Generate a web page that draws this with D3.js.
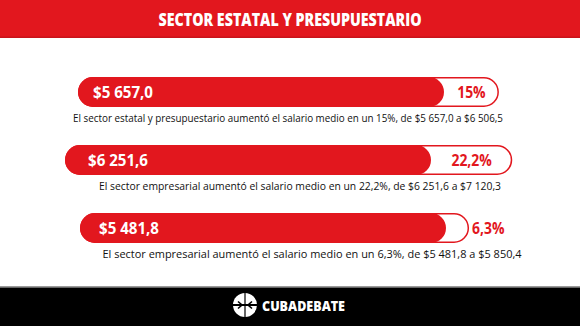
<!DOCTYPE html>
<html><head><meta charset="utf-8">
<script src="https://cdn.jsdelivr.net/npm/d3@7"></script>
<style>html,body{margin:0;padding:0;background:#fff;}svg{display:block;}</style>
</head><body>
<svg id="chart" width="580" height="326"></svg>
<script>
// ---- data ----
const title = "SECTOR ESTATAL Y PRESUPUESTARIO";
const sectors = ["estatal y presupuestario", "empresarial", "empresarial"];
const baseValues = [5657.0, 6251.6, 5481.8];
const newValues = [6506.5, 7120.3, 5850.4];
const growthPct = [15, 22.2, 6.3];
const baseLabels = ["$5 657,0", "$6 251,6", "$5 481,8"];
const newLabels = ["$6 506,5", "$7 120,3", "$5 850,4"];
const pctLabels = ["15%", "22,2%", "6,3%"];
const brand = "CUBADEBATE";

// ---- layout (not data) ----
const barLeft = [78, 65, 80];
const barTop = [77, 145, 213];
const labelPad = [15, 23, 19];
const captionX = [288, 300, 312];
const captionWidth = [430, 402, 419];
const barH = 30;
const baseWidth = 366;
const RED = "#e2171e";

const svg = d3.select("#chart");

// header
svg.append("rect").attr("x",0).attr("y",0).attr("width",580).attr("height",38).attr("fill",RED);
svg.append("rect").attr("x",0).attr("y",36.5).attr("width",580).attr("height",1.5).attr("fill","#c8141b");
svg.append("text").attr("x",290).attr("y",25.5).attr("text-anchor","middle")
  .attr("font-family","'Open Sans', sans-serif").attr("font-weight",800).attr("font-size",17.5)
  .attr("fill","#fff").attr("textLength",263).attr("lengthAdjust","spacingAndGlyphs").text(title);

// bars: each bar's base salary = 100 %, outline extends by the growth %
const x = d3.scaleLinear().domain([0, 100]).range([0, baseWidth]);
baseValues.forEach((b,i)=>{
  const g = svg.append("g").attr("transform",`translate(${barLeft[i]},${barTop[i]})`);
  const fillW = x(100);
  const outerW = x(100 + growthPct[i]);
  g.append("rect").attr("x",0.75).attr("y",0.75).attr("width",outerW-1.5).attr("height",barH-1.5)
    .attr("rx",(barH-1.5)/2).attr("fill","#fff").attr("stroke",RED).attr("stroke-width",1.5);
  g.append("rect").attr("x",0).attr("y",0).attr("width",fillW).attr("height",barH)
    .attr("rx",barH/2).attr("fill",RED);
  g.append("text").attr("x",labelPad[i]).attr("y",barH/2+5.8)
    .attr("font-family","'Open Sans', sans-serif").attr("font-weight",700).attr("font-size",16)
    .attr("fill","#fff").attr("textLength",60).attr("lengthAdjust","spacingAndGlyphs").text(baseLabels[i]);
  const pt = g.append("text").attr("y",barH/2+5.8)
    .attr("font-family","'Open Sans', sans-serif").attr("font-weight",700).attr("font-size",16)
    .attr("fill",RED).text(pctLabels[i]);
  let tw = pt.node().getComputedTextLength();
  const target = tw * 0.87;
  pt.attr("textLength", target).attr("lengthAdjust","spacingAndGlyphs");
  const gap = outerW - fillW;
  if (gap > target + 8) {
    pt.attr("x", fillW + gap/2).attr("text-anchor","middle");
  } else {
    pt.attr("x", outerW + 3).attr("text-anchor","start");
  }
  svg.append("text").attr("x",captionX[i]).attr("y",barTop[i]+barH+15).attr("text-anchor","middle")
    .attr("font-family","'Open Sans', sans-serif").attr("font-size",11.5).attr("fill","#111")
    .attr("textLength",captionWidth[i]).attr("lengthAdjust","spacingAndGlyphs")
    .text(`El sector ${sectors[i]} aumentó el salario medio en un ${pctLabels[i]}, de ${baseLabels[i]} a ${newLabels[i]}`);
});

// footer
svg.append("rect").attr("x",0).attr("y",286).attr("width",580).attr("height",1.5).attr("fill","#9a9a9a");
svg.append("rect").attr("x",0).attr("y",287.5).attr("width",580).attr("height",38.5).attr("fill","#000");
const logo = svg.append("g").attr("transform","translate(245,305)");
logo.append("circle").attr("r",12).attr("fill","#fff");
logo.append("rect").attr("x",-12).attr("y",-1).attr("width",24).attr("height",2).attr("fill","#000");
logo.append("rect").attr("x",-0.6).attr("y",-12).attr("width",1.2).attr("height",24).attr("fill","#000");
logo.append("path").attr("d","M-7,-3.5 L-3,0 L-7,3.5").attr("fill","none").attr("stroke","#000").attr("stroke-width",1.6);
logo.append("path").attr("d","M7,-3.5 L3,0 L7,3.5").attr("fill","none").attr("stroke","#000").attr("stroke-width",1.6);
svg.append("text").attr("x",262).attr("y",310.5)
  .attr("font-family","'Open Sans', sans-serif").attr("font-weight",800).attr("font-size",14)
  .attr("fill","#fff").attr("textLength",83).attr("lengthAdjust","spacingAndGlyphs").text(brand);
</script>
</body></html>
